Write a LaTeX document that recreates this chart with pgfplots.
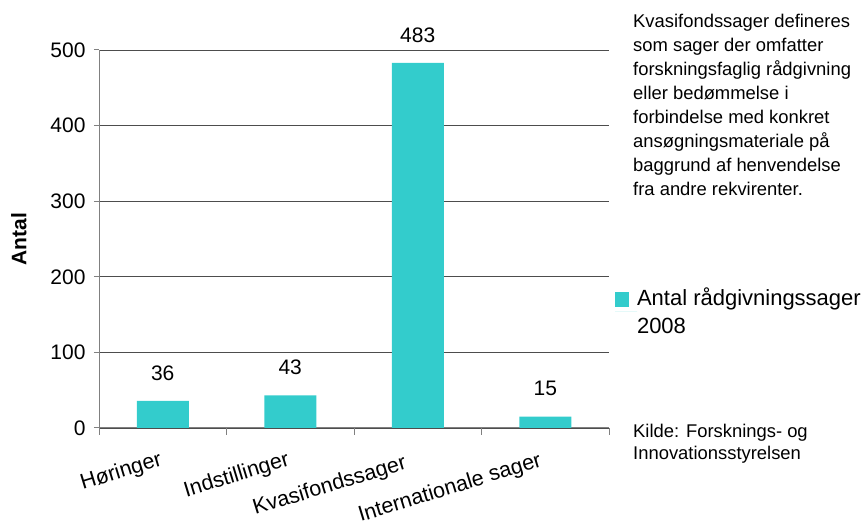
\documentclass[border=0pt]{standalone}
\usepackage{pgfplots}
\pgfplotsset{compat=1.18}
\usepackage{fontspec}
\setmainfont{Liberation Sans}
\definecolor{barc}{HTML}{33CCCC}
\definecolor{gridc}{HTML}{4D4D4D}
\definecolor{axc}{HTML}{808080}
\begin{document}
\begin{tikzpicture}
\useasboundingbox (0,0) rectangle (861pt,521pt);
\begin{axis}[
  at={(99pt,93pt)}, anchor=south west,
  scale only axis, width=510pt, height=378pt,
  xmin=0, xmax=4, ymin=0, ymax=500,
  axis lines*=left,
  axis line style={axc, line width=1pt},
  clip=false,
  ybar, bar width=52pt, bar shift=0pt,
  ytick={0,100,...,500},
  ymajorgrids, grid style={gridc, line width=0.9pt},
  tick align=outside,
  major tick length=5pt,
  tick style={axc, line width=1pt},
  xtick={0.5,1.5,2.5,3.5},
  xticklabels={Høringer,Indstillinger,Kvasifondssager\kern11pt,Internationale sager\kern3pt},
  x tick style={draw=none},
  minor xtick={0,1,2,3,4},
  minor x tick style={axc, line width=1pt, draw=axc},
  minor tick length=7pt,
  xticklabel style={yshift=-13pt, xshift=-2pt, rotate=17, anchor=north east, font=\fontsize{21.5}{24}\selectfont},
  yticklabel style={font=\fontsize{21}{24}\selectfont, xshift=-5pt},
  /pgf/number format/assume math mode=true,
  ylabel={\textbf{Antal}},
  ylabel style={at={(axis description cs:-0.157,0.5)}, anchor=center, font=\fontsize{21}{24}\selectfont},
  nodes near coords,
  nodes near coords style={anchor=south, yshift=17pt, font=\fontsize{21}{24}\selectfont, black},
  legend style={draw=none, fill=none, inner sep=0pt, outer sep=0pt, at={(rel axis cs:1.0118,0.3704)}, anchor=north west,
    font=\fontsize{22}{28}\selectfont, nodes={align=left, inner sep=0pt}, row sep=0pt},
  legend image code/.code={\path (0pt,0pt) -- (22pt,0pt);\fill[barc] (0pt,5pt) rectangle (14pt,20pt);},
  legend cell align=left,
]
\addplot[fill=barc, draw=none] coordinates {(0.5,36) (1.5,43) (2.5,483) (3.5,15)};
\addlegendentry{Antal rådgivningssager\\2008}
\end{axis}
\node[anchor=north west, inner sep=0pt, align=left, font=\fontsize{18.4}{24}\selectfont] at (633pt,507pt)
 {Kvasifondssager defineres\\som sager der omfatter\\forskningsfaglig rådgivning\\eller bedømmelse i\\forbindelse med konkret\\ansøgningsmateriale på\\baggrund af henvendelse\\fra andre rekvirenter.};
\node[anchor=north west, inner sep=0pt, align=left, font=\fontsize{18.4}{22}\selectfont] at (633pt,97.5pt)
 {Kilde: Forsknings- og\\Innovationsstyrelsen};
\end{tikzpicture}
\end{document}
